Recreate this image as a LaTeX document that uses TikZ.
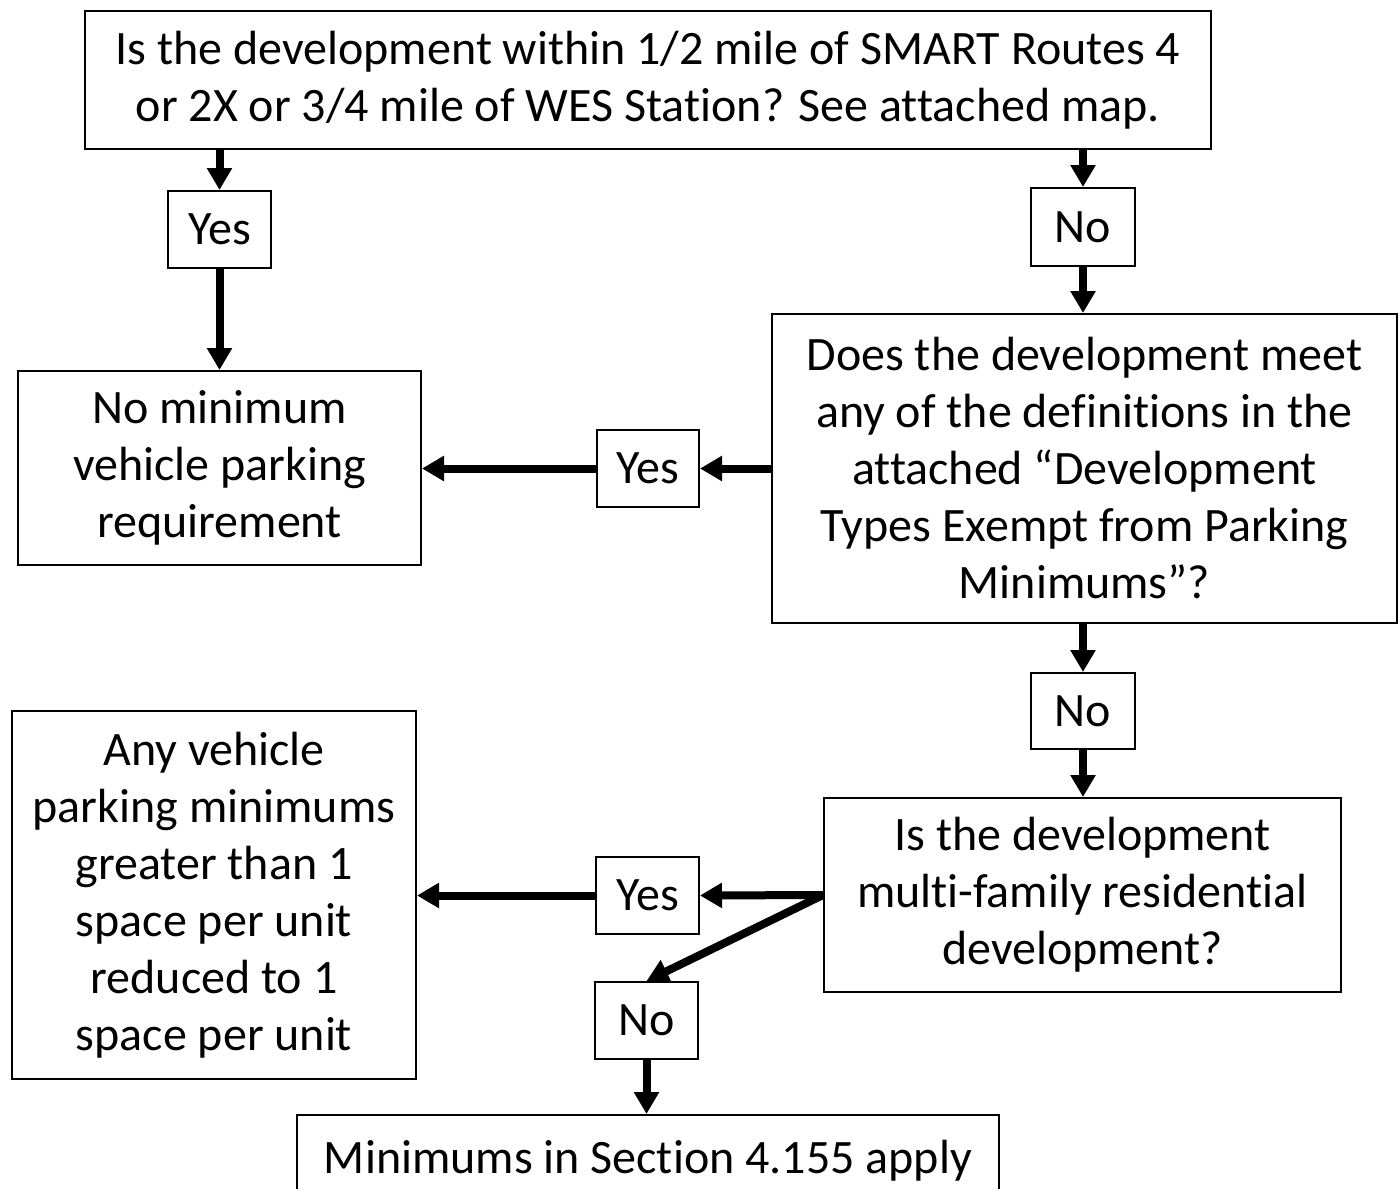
\documentclass[tikz,border=0pt]{standalone}
\usepackage{fontspec}
\setmainfont{Carlito}[Ligatures=NoCommon]
\usetikzlibrary{arrows.meta}
\begin{document}
\begin{tikzpicture}[x=0.5pt,y=-0.5pt,
  box/.style={draw, line width=1pt, align=center, inner sep=0pt, font=\fontsize{24}{28.5}\selectfont},
  conn/.style={line width=4pt, -{Triangle[width=12pt,length=11pt]}}]
\useasboundingbox (0,0) rectangle (1400,1188);
\clip (0,0) rectangle (1400,1188);
\node[box, minimum width=563pt, minimum height=68.5pt] (q1) at (648,80) {Is the development within 1/2 mile of SMART Routes 4\\or 2X or 3/4 mile of WES Station? See attached map.};
\node[box, minimum width=51.5pt, minimum height=38.5pt] (yes1) at (219.5,229.5) {Yes};
\node[box, minimum width=52pt, minimum height=39pt] (no1) at (1083,227) {No};
\node[box, minimum width=201.5pt, minimum height=97pt] (nomin) at (219.5,468) {No minimum\\vehicle parking\\requirement};
\node[box, minimum width=312.5pt, minimum height=154.5pt] (q2) at (1084.5,468.5) {Does the development meet\\any of the definitions in the\\attached “Development\\Types Exempt from Parking\\Minimums”?};
\node[box, minimum width=51pt, minimum height=38.5pt] (yes2) at (648,468.5) {Yes};
\node[box, minimum width=52pt, minimum height=38pt] (no2) at (1083,711) {No};
\node[box, minimum width=202pt, minimum height=184pt] (any) at (214,895) {Any vehicle\\parking minimums\\greater than 1\\space per unit\\reduced to 1\\space per unit};
\node[box, minimum width=258.5pt, minimum height=97pt] (q3) at (1082.5,895) {Is the development\\multi-family residential\\development?};
\node[box, minimum width=51.5pt, minimum height=38.5pt] (yes3) at (647.5,895.5) {Yes};
\node[box, minimum width=51.5pt, minimum height=38.5pt] (no3) at (646.5,1020.5) {No};
\node[box, minimum width=351pt, minimum height=46pt] (final) at (648,1161) {Minimums in Section 4.155 apply};
\draw[conn] (yes1.north |- q1.south) -- (yes1.north);
\draw[conn] (yes1.south) -- (yes1.south |- nomin.north);
\draw[conn] (no1.north |- q1.south) -- (no1.north);
\draw[conn] (no1.south) -- (no1.south |- q2.north);
\draw[conn] (q2.west) -- (yes2.east);
\draw[conn] (yes2.west) -- (yes2.west -| nomin.east);
\draw[conn] (no2.north |- q2.south) -- (no2.north);
\draw[conn] (no2.south) -- (no2.south |- q3.north);
\draw[conn] (q3.west) -- (yes3.east);
\draw[conn] (yes3.west) -- (yes3.west -| any.east);
\draw[conn] (q3.west) -- (no3.north);
\draw[conn] (no3.south) -- (no3.south |- final.north);
\end{tikzpicture}
\end{document}
